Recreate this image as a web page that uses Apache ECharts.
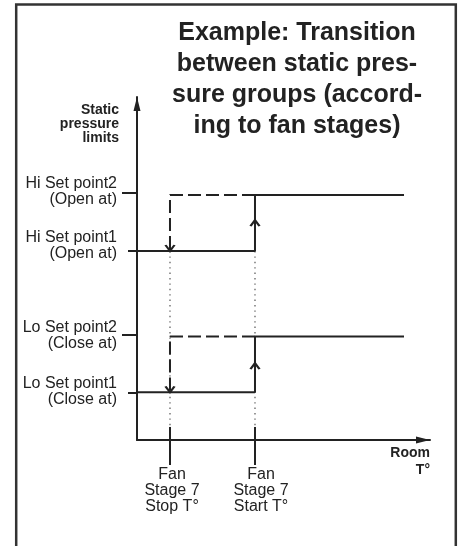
<!DOCTYPE html>
<html>
<head>
<meta charset="utf-8">
<script src="https://cdn.jsdelivr.net/npm/echarts@6/dist/echarts.min.js"></script>
<style>
html, body { margin: 0; padding: 0; background: #fff; }
#chart { width: 466px; height: 546px; }
</style>
</head>
<body>
<div id="chart"></div>
<script>
// room temperature axis (0..100, arbitrary units)
const stopT = 11.26      // fan stage 7 stop
const startT = 40.27     // fan stage 7 start
const lineEnd = 91.13
const fanLabelPos = [11.95, 42.32]
const fanLabels = ['Fan\nStage 7\nStop T°', 'Fan\nStage 7\nStart T°']

// static pressure axis (0..100, arbitrary units)
const hiSp2 = 71.43
const hiSp1 = 55.10
const loSp2 = 30.17
const loSp1 = 13.91
const sp2Ticks = [72.1, 30.6]
const sp1Ticks = [hiSp1, loSp1]
const pressureLabelPos = [72.5, 56.6, 30.3, 14.0]
const pressureLabels = ['Hi Set point2\n(Open at)', 'Hi Set point1\n(Open at)', 'Lo Set point2\n(Close at)', 'Lo Set point1\n(Close at)']

// arrow heads on the transitions
const upArrows = [[startT, 64.1], [startT, 22.4]]
const downArrows = [[stopT, hiSp1], [stopT, loSp1]]
// dotted guides from hi set point1 down to the temperature ticks
const dotTop = hiSp1
const dotBottom = 3.8

const ink = '#222'
const font = 'Liberation Sans, Arial, sans-serif'

const nearest = (arr, v) => {
  let best = 0
  arr.forEach((a, i) => { if (Math.abs(a - v) < Math.abs(arr[best] - v)) best = i })
  return best
}

const solid = { color: ink, width: 2, type: 'solid' }
const dashed = { color: ink, width: 2, type: [13, 5] }
const dotted = { color: '#555', width: 1.2, type: [1.4, 4] }

const lineSeries = (data, style, z) => ({
  type: 'line',
  data,
  showSymbol: false,
  symbol: 'none',
  clip: false,
  silent: true,
  z,
  lineStyle: style
})

const series = []
// dotted guides
;[stopT, startT].forEach(t => series.push(lineSeries([[t, dotTop], [t, dotBottom]], dotted, 1)))
// solid tick part above the axis
;[stopT, startT].forEach(t => series.push(lineSeries([[t, 0], [t, dotBottom]], solid, 3)))
// pressure groups: solid path when rising, dashed when falling
;[[hiSp1, hiSp2], [loSp1, loSp2]].forEach(([sp1, sp2]) => {
  series.push(lineSeries([[0, sp1], [startT, sp1], [startT, sp2], [lineEnd, sp2]], solid, 3))
  series.push(lineSeries([[startT, sp2], [stopT, sp2], [stopT, sp1]], dashed, 2))
})
const arrowStyle = { color: 'transparent', borderColor: ink, borderWidth: 2, opacity: 1 }
series.push({
  type: 'scatter',
  data: upArrows,
  symbol: 'path://M0,5L4,0L8,5',
  symbolSize: [9, 6],
  symbolOffset: [0, 3],
  clip: false,
  silent: true,
  z: 4,
  itemStyle: arrowStyle
})
series.push({
  type: 'scatter',
  data: downArrows,
  symbol: 'path://M0,0L4,5L8,0',
  symbolSize: [9, 6],
  symbolOffset: [0, -3],
  clip: false,
  silent: true,
  z: 4,
  itemStyle: arrowStyle
})

const arrowLine = {
  show: true,
  lineStyle: { color: ink, width: 2 },
  symbol: ['none', 'triangle'],
  symbolSize: [7, 14],
  symbolOffset: [0, -7]
}

const chart = echarts.init(document.getElementById('chart'), null, { renderer: 'canvas' })
chart.setOption({
  animation: false,
  backgroundColor: '#fff',
  textStyle: { fontFamily: font },
  graphic: [{
    type: 'rect',
    shape: { x: 16.2, y: 4.5, width: 439.6, height: 580 },
    style: { fill: 'none', stroke: '#333', lineWidth: 2.5 },
    silent: true
  }],
  title: [
    {
      text: 'Example: Transition\nbetween static pres-\nsure groups (accord-\ning to fan stages)',
      left: 297, top: 18, padding: 0, textAlign: 'center',
      textStyle: { fontFamily: font, fontSize: 25, fontWeight: 'bold', lineHeight: 31, color: ink }
    },
    {
      text: 'Static\npressure\nlimits',
      left: 119, top: 103, padding: 0, textAlign: 'right',
      textStyle: { fontFamily: font, fontSize: 14, fontWeight: 'bold', lineHeight: 14, color: ink }
    },
    {
      text: 'Room\nT°',
      left: 430, top: 444.5, padding: 0, textAlign: 'right',
      textStyle: { fontFamily: font, fontSize: 14, fontWeight: 'bold', lineHeight: 17, color: ink }
    }
  ],
  grid: { left: 137, right: 36, top: 97, bottom: 106, containLabel: false, outerBoundsMode: 'none' },
  xAxis: {
    type: 'value',
    min: 0,
    max: 100,
    splitLine: { show: false },
    axisLine: arrowLine,
    axisTick: { show: true, customValues: [stopT, startT], length: 25, lineStyle: { color: ink, width: 2 } },
    axisLabel: {
      show: true,
      customValues: fanLabelPos,
      margin: 27,
      fontSize: 16,
      lineHeight: 16,
      color: ink,
      fontFamily: font,
      formatter: v => fanLabels[nearest(fanLabelPos, v)]
    }
  },
  yAxis: [
    {
      type: 'value',
      min: 0,
      max: 100,
      splitLine: { show: false },
      axisLine: arrowLine,
      axisTick: { show: true, customValues: sp2Ticks, length: 15, lineStyle: { color: ink, width: 2 } },
      axisLabel: {
        show: true,
        customValues: pressureLabelPos,
        margin: 20,
        fontSize: 16,
        lineHeight: 16,
        color: ink,
        fontFamily: font,
        formatter: v => pressureLabels[nearest(pressureLabelPos, v)]
      }
    },
    {
      // short left stubs of the set point 1 lines
      type: 'value',
      position: 'left',
      min: 0,
      max: 100,
      splitLine: { show: false },
      axisLine: { show: false },
      axisLabel: { show: false },
      axisTick: { show: true, customValues: sp1Ticks, length: 9, lineStyle: { color: ink, width: 2 } }
    }
  ],
  series
})
</script>
</body>
</html>
